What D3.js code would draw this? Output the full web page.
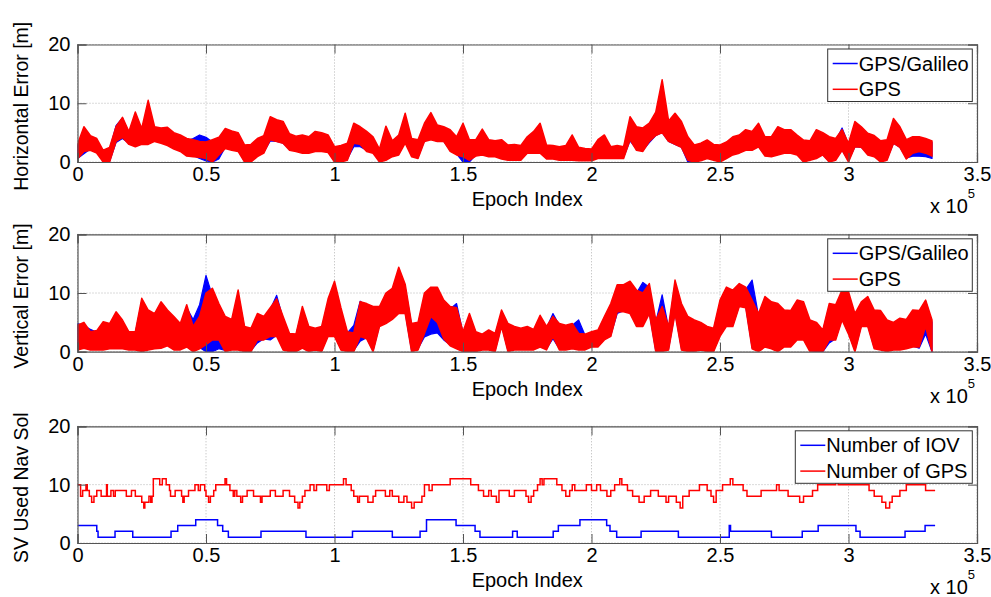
<!DOCTYPE html>
<html><head><meta charset="utf-8">
<script src="https://cdn.jsdelivr.net/npm/d3@7/dist/d3.min.js"></script>
<style>
html,body{margin:0;padding:0;background:#fff;}
svg{display:block;font-family:"Liberation Sans",Arial,Helvetica,sans-serif;}
</style></head>
<body><svg id="chart" width="991" height="597"></svg>
<script>
// ---------------- DATA ----------------
const xTickValues = [0, 0.5, 1, 1.5, 2, 2.5, 3, 3.5];          // x 10^5
const xTickLabels = ["0", "0.5", "1", "1.5", "2", "2.5", "3", "3.5"];
const yTickValues = [0, 10, 20];
const panelYLabels = ["Horizontal Error [m]", "Vertical Error [m]", "SV Used Nav Sol"];
const xAxisLabel = "Epoch Index";
const errLegend = ["GPS/Galileo", "GPS"];
const svLegend = ["Number of IOV", "Number of GPS"];

// Error envelopes (upper / lower) sampled every 2500 epochs
const envelopeStep = 2500;

// GPS-only horizontal error
const horizGpsHi = [3.0,6.0,4.5,4.0,2.0,2.5,6.0,7.6,5.2,8.5,5.7,10.5,6.0,5.8,5.9,5.0,4.6,4.0,3.8,3.5,
  3.4,3.8,4.2,5.7,5.3,5.0,2.9,3.0,4.0,4.5,7.7,7.2,6.9,4.8,4.4,4.6,4.3,5.2,5.0,4.6,
  2.6,2.8,3.2,6.6,6.0,5.2,4.3,2.2,6.1,3.6,4.6,8.3,4.0,3.8,6.6,8.4,6.3,6.0,5.5,4.3,
  6.6,3.8,3.8,5.6,3.8,3.6,3.8,2.9,3.0,2.8,4.3,5.2,6.6,2.9,2.8,2.6,2.8,4.6,2.5,2.3,
  2.2,3.8,4.6,2.6,2.8,2.6,7.7,6.0,5.8,6.6,8.5,14.0,7.0,8.3,6.9,4.3,2.9,3.2,3.75,3.0,
  2.9,3.4,4.3,4.6,5.5,5.2,6.6,4.3,4.3,6.0,5.5,5.5,4.6,3.75,3.6,5.5,5.0,4.3,4.0,5.5,
  3.2,6.9,6.0,4.9,4.5,3.6,3.8,7.4,6.0,3.8,4.3,4.3,4.0,3.6];
const horizGpsLo = [0.5,1.8,2.0,1.5,0.0,0.0,3.5,4.2,3.0,2.6,3.0,3.0,3.5,3.2,2.8,2.2,1.8,1.0,0.9,0.8,
  0.6,0.0,1.2,2.3,2.0,1.8,0.0,0.0,0.9,1.5,3.8,3.5,3.2,2.0,1.8,1.5,1.5,1.8,1.8,1.6,
  0.0,0.0,0.3,3.2,3.0,1.8,1.5,0.0,0.3,0.9,1.2,3.2,0.9,0.6,3.5,3.8,3.5,3.5,1.8,1.2,
  0.9,0.3,1.0,1.2,0.9,0.9,0.5,0.3,0.3,0.3,1.5,1.5,1.5,0.5,0.5,0.3,0.3,0.3,0.2,0.2,
  0.2,0.6,0.6,0.6,0.6,0.6,3.8,2.0,1.8,3.5,4.5,5.0,3.5,3.0,2.5,0.3,0.0,0.2,0.6,0.3,
  0.0,0.6,1.2,1.5,2.0,2.0,2.6,1.0,0.9,1.2,1.5,1.5,1.2,0.0,0.3,0.6,1.2,0.0,0.3,2.0,
  0.0,2.6,2.5,1.2,0.9,0.0,0.3,3.2,2.5,0.5,1.5,1.8,1.5,1.0];

// GPS/Galileo horizontal error
const horizGalHi = [2.8,5.0,4.0,3.5,1.8,2.2,6.2,7.5,4.8,6.5,5.2,7.5,5.5,5.4,5.3,4.6,4.2,3.6,4.0,4.6,
  4.2,3.4,3.8,5.2,4.9,4.6,2.6,2.7,3.6,4.1,7.0,6.6,6.2,4.4,4.0,4.2,3.9,4.8,4.6,4.2,
  2.3,2.5,2.9,5.8,5.6,4.8,3.9,2.0,3.5,3.2,4.2,7.0,3.6,3.4,6.0,7.2,5.8,5.6,5.0,3.9,
  5.0,3.4,3.4,4.5,3.4,3.2,3.4,2.6,2.7,2.5,3.9,4.6,5.0,2.6,2.5,2.3,2.5,3.5,2.2,2.0,
  2.0,3.4,3.8,2.3,2.5,2.3,7.0,5.4,5.2,6.0,7.5,8.5,6.5,7.8,6.2,3.8,2.6,2.9,3.3,2.7,
  2.6,3.0,3.9,4.2,5.0,4.8,6.0,3.9,3.9,5.2,5.0,5.0,4.2,3.3,3.2,4.8,4.5,3.9,3.6,5.8,
  3.0,6.2,5.5,4.4,4.0,3.3,3.5,6.5,5.5,3.4,3.9,3.8,3.6,3.3];
const horizGalLo = [0.6,1.4,2.2,1.7,0.1,0.1,3.3,4.0,3.2,2.8,3.2,3.2,3.7,3.4,3.0,2.4,2.0,1.2,1.1,0.6,
  0.2,0.0,0.5,2.5,2.2,2.0,0.1,0.1,1.1,1.7,3.6,3.5,3.2,2.2,2.0,1.7,1.7,2.0,2.0,1.8,
  0.1,0.1,0.5,2.6,2.6,2.0,1.7,0.1,0.5,1.1,1.4,3.4,1.1,0.8,3.6,4.0,3.5,3.5,2.0,1.4,
  0.0,0.0,1.2,1.4,1.1,1.1,0.7,0.5,0.5,0.5,1.7,1.7,1.7,0.7,0.7,0.5,0.5,0.5,0.4,0.4,
  0.4,0.8,0.8,0.8,0.8,0.8,3.6,2.2,2.0,3.3,4.5,5.0,3.5,3.0,2.5,0.0,0.1,0.4,0.8,0.5,
  0.1,0.8,1.4,1.7,2.2,2.2,2.6,1.2,1.1,1.4,1.7,1.7,1.4,0.1,0.5,0.8,1.2,0.1,0.5,2.0,
  0.2,2.6,2.5,1.4,1.1,0.1,0.5,3.2,2.5,0.7,1.0,1.0,0.9,0.6];

// GPS-only vertical error
const vertGpsHi = [4.5,5.0,3.4,3.6,5.1,4.8,6.8,5.4,3.4,3.4,9.1,7.1,6.5,8.5,7.1,6.0,4.8,8.0,4.3,6.0,
  10.0,10.8,8.2,6.0,5.5,10.5,4.3,4.0,6.5,6.0,7.5,9.0,6.0,3.1,3.0,7.7,4.3,4.0,4.3,9.0,
  12.0,7.5,3.4,3.2,8.5,8.2,7.7,7.7,10.0,10.8,14.4,11.5,4.8,5.0,10.0,11.0,11.0,8.8,7.7,7.5,
  3.4,6.5,3.4,3.0,3.7,3.1,7.1,4.8,4.3,4.0,4.3,3.8,6.2,4.3,6.0,4.8,4.5,4.8,3.1,3.0,
  3.4,3.7,6.0,8.2,11.4,11.4,12.0,10.5,10.0,11.6,5.4,7.7,4.3,12.2,8.2,6.0,5.4,5.0,4.3,4.0,
  8.8,11.0,10.5,11.6,11.0,8.8,6.5,9.4,8.5,8.2,7.1,7.0,8.8,8.5,5.4,5.0,3.7,8.2,8.0,10.5,
  10.2,6.5,8.5,9.4,7.1,7.0,5.4,5.0,5.7,5.5,7.1,7.0,8.8,5.4];
const vertGpsLo = [0.3,0.6,0.3,0.3,0.3,0.5,0.5,0.5,0.3,0.3,0.0,0.3,0.5,0.6,1.0,0.3,0.3,0.8,0.0,0.5,
  1.2,2.0,2.0,0.0,0.3,0.3,0.0,0.0,2.0,2.0,2.6,2.6,0.3,0.0,0.0,0.6,0.0,0.3,0.0,2.6,
  2.6,0.3,0.0,0.0,2.6,2.2,0.0,4.3,4.8,5.5,6.5,6.5,0.0,0.3,3.1,6.0,5.0,2.2,1.0,0.5,
  0.0,0.0,0.0,0.3,0.3,0.0,4.3,0.0,0.3,0.3,0.3,0.3,0.8,0.3,2.6,0.3,0.3,0.5,0.3,0.3,
  0.8,0.8,2.0,2.6,6.8,6.8,6.5,4.3,4.3,6.5,0.0,0.0,0.3,6.5,0.3,0.0,0.0,0.3,0.0,0.0,
  2.6,4.3,4.3,7.7,7.5,0.5,0.0,0.8,0.5,0.0,0.8,0.8,2.0,2.0,0.0,0.0,0.0,2.0,2.0,5.4,
  3.0,0.0,4.3,4.3,0.5,0.3,0.0,0.3,0.3,0.5,0.8,0.8,4.3,0.0];

// GPS/Galileo vertical error
const vertGalHi = [4.8,4.5,3.8,3.3,4.8,4.5,6.4,5.0,3.2,3.2,8.6,6.7,6.1,8.0,6.7,5.6,4.5,7.5,5.5,8.0,
  13.0,9.5,7.7,5.6,5.2,9.8,4.0,3.7,6.2,5.7,7.2,9.6,5.6,2.9,2.8,7.2,4.0,3.7,4.0,8.5,
  11.5,7.0,3.2,4.5,8.6,7.8,7.3,7.3,9.5,10.3,13.8,11.0,4.5,4.7,9.5,10.5,10.5,8.4,7.3,8.2,
  3.2,6.1,3.2,2.8,3.5,2.9,6.7,4.5,4.0,3.7,4.0,3.6,5.8,4.0,6.5,4.5,4.2,4.5,5.4,2.8,
  3.2,3.5,5.8,7.8,10.8,10.8,11.5,10.0,11.8,11.0,5.0,9.7,4.0,11.5,7.7,5.6,5.0,4.7,4.0,3.7,
  8.3,10.5,10.0,11.0,10.6,12.2,6.1,8.9,8.0,7.8,6.7,6.6,8.4,8.0,5.0,4.7,3.5,7.8,7.6,10.0,
  9.7,6.1,8.0,8.9,6.7,6.6,5.0,4.7,5.3,5.2,6.7,6.6,8.6,5.0];
const vertGalLo = [0.5,0.8,0.5,0.5,0.5,0.7,0.7,0.7,0.5,0.5,0.2,0.5,0.7,0.8,1.2,0.5,0.5,1.0,0.2,0.7,
  0.0,0.0,0.5,0.2,0.5,0.5,0.2,0.2,1.5,2.2,2.0,2.8,0.5,0.2,0.2,0.8,0.2,0.5,0.2,2.8,
  2.8,0.5,0.2,0.2,1.8,2.4,0.2,4.5,5.0,5.7,6.7,6.7,0.2,0.5,2.5,3.0,3.2,2.0,1.2,0.7,
  0.2,0.2,0.2,0.5,0.5,0.2,4.5,0.2,0.5,0.5,0.5,0.5,1.0,0.5,2.2,0.5,0.5,0.7,0.5,0.5,
  1.0,1.0,2.2,2.8,6.5,7.0,6.7,4.5,4.5,6.7,0.2,0.2,0.5,6.7,0.5,0.2,0.2,0.5,0.2,0.2,
  2.8,4.5,4.5,7.9,7.7,0.7,0.2,1.0,0.7,0.2,1.0,1.0,2.2,2.2,0.2,0.0,0.0,1.5,2.2,5.6,
  3.2,0.2,4.5,4.5,0.7,0.5,0.2,0.5,0.5,0.7,1.0,0.6,3.0,0.0];

// Satellites used: change points (epoch) and counts
const iovEpoch = [0,7500,8000,14600,21500,36400,39000,46000,54500,56500,58700,71400,88900,107000,122500,
  133300,135800,147300,154700,156600,169300,171100,185100,187100,195500,205900,207200,209800,219300,
  233800,253600,254100,270000,282000,288200,302900,304500,322000,329800,333700];
const iovCount = [3,2,1,2,1,2,3,4,3,2,1,2,1,2,1,2,4,3,2,1,2,1,2,3,4,3,2,1,2,1,3,2,1,2,3,2,1,2,3,3];

const gpsEpoch = [0,1200,2000,3300,3800,4600,5500,6400,7500,9200,11300,11600,13000,14000,14700,19000,
  21000,22500,25000,25800,26200,27800,28500,29000,29500,32000,33000,34500,35800,36200,38000,40500,
  41000,41500,43200,45700,47000,47800,49500,50000,51000,51700,53000,53800,57400,58000,59300,60600,
  61200,62000,63500,64200,66000,68500,71200,71800,75000,77000,80000,82500,84500,85800,86500,87500,
  88500,90500,92000,93000,97000,98000,103500,104500,106500,107500,109000,109700,113000,115000,116000,
  119800,121500,122500,125000,127000,128200,130000,131000,134000,135000,136800,138000,145000,153000,
  156000,158000,160000,161000,163000,164000,168000,170000,174500,175500,176500,177500,179000,180000,
  180800,181500,186500,188500,190000,191500,192500,193500,198000,200000,202000,203500,206000,207500,
  209000,211000,211800,214000,216000,218500,220500,223000,226000,229000,230000,233000,234500,235500,
  238000,242000,245000,246500,247500,248500,251000,254000,255000,259000,260500,266000,272000,273000,
  276500,281000,282500,286000,288000,295000,296000,308000,310000,313000,314500,316000,317000,320000,
  322500,330000,333700];
const gpsCount = [10,8,9,10,9,8,7,8,9,8,10,8,9,8,9,8,9,8,7,6,7,8,7,8,11,10,11,10,9,8,9,8,7,8,9,10,9,10,
  9,8,7,8,9,10,11,10,9,8,9,8,7,8,9,8,7,8,9,8,9,8,7,6,7,8,9,10,9,10,9,10,11,10,9,8,7,8,7,8,9,8,9,8,7,
  8,7,6,7,8,10,9,10,11,10,9,8,9,8,7,9,8,9,8,7,8,9,10,11,10,11,10,9,8,9,10,9,10,9,10,9,8,9,10,11,10,9,
  8,7,8,9,8,7,8,7,6,8,9,10,9,8,7,9,10,11,10,9,8,9,10,9,8,7,8,9,10,11,10,9,8,7,6,7,8,9,10,9,9];

// ---------------- CHART ----------------
const svg = d3.select("#chart");
const FONT = 20;
const plotLeft = 77.5, plotRight = 977;
const panels = [
  {top: 44.5, bottom: 162},
  {top: 234.3, bottom: 351.7},
  {top: 426.3, bottom: 543}
];
const BLUE = "#0000ff", RED = "#ff0000";

const x = d3.scaleLinear().domain([0, 350000]).range([plotLeft, plotRight]);

function envelope(hi, lo, step) {
  const n = Math.min(hi.length, lo.length);
  return d3.range(n).map(i => ({e: i * step, hi: hi[i], lo: lo[i]}));
}

panels.forEach((p, k) => {
  const y = d3.scaleLinear().domain([0, 20]).range([p.bottom, p.top]);
  const g = svg.append("g");
  const clipId = "clip" + k;
  svg.append("clipPath").attr("id", clipId).append("rect")
    .attr("x", plotLeft).attr("y", p.top).attr("width", plotRight - plotLeft).attr("height", p.bottom - p.top);

  // grid
  const grid = g.append("g").attr("stroke", "#b4b4b4").attr("stroke-width", 1).attr("stroke-dasharray", "1,2");
  xTickValues.forEach(v => {
    grid.append("line").attr("x1", x(v * 1e5)).attr("x2", x(v * 1e5)).attr("y1", p.top).attr("y2", p.bottom);
  });
  yTickValues.forEach(v => {
    grid.append("line").attr("x1", plotLeft).attr("x2", plotRight).attr("y1", y(v)).attr("y2", y(v));
  });

  const data = g.append("g").attr("clip-path", `url(#${clipId})`);
  if (k < 2) {
    const gal = k === 0 ? envelope(horizGalHi, horizGalLo, envelopeStep) : envelope(vertGalHi, vertGalLo, envelopeStep);
    const gps = k === 0 ? envelope(horizGpsHi, horizGpsLo, envelopeStep) : envelope(vertGpsHi, vertGpsLo, envelopeStep);
    const area = d3.area().x(d => x(d.e)).y0(d => y(d.lo)).y1(d => y(d.hi));
    data.append("path").datum(gal).attr("d", area).attr("fill", BLUE).attr("stroke", BLUE)
      .attr("stroke-width", 1.2).attr("stroke-linejoin", "round");
    data.append("path").datum(gps).attr("d", area).attr("fill", RED).attr("stroke", RED)
      .attr("stroke-width", 1.5).attr("stroke-linejoin", "round");
  } else {
    const line = d3.line().x(d => x(d[0])).y(d => y(d[1])).curve(d3.curveStepAfter);
    data.append("path").datum(iovEpoch.map((e, i) => [e, iovCount[i]])).attr("d", line)
      .attr("fill", "none").attr("stroke", BLUE).attr("stroke-width", 1.5);
    data.append("path").datum(gpsEpoch.map((e, i) => [e, gpsCount[i]])).attr("d", line)
      .attr("fill", "none").attr("stroke", RED).attr("stroke-width", 1.5);
  }

  // axes (ticks inward, mirrored)
  const fmt = (v) => xTickLabels[xTickValues.indexOf(v / 1e5)];
  const ax = g.append("g").attr("transform", `translate(0,${p.bottom})`)
    .call(d3.axisBottom(x).tickValues(xTickValues.map(v => v * 1e5)).tickFormat(fmt).tickSize(-9).tickPadding(5));
  const at = g.append("g").attr("transform", `translate(0,${p.top})`)
    .call(d3.axisTop(x).tickValues(xTickValues.map(v => v * 1e5)).tickFormat("").tickSize(-9));
  const ay = g.append("g").attr("transform", `translate(${plotLeft},0)`)
    .call(d3.axisLeft(y).tickValues(yTickValues).tickFormat(d3.format("d")).tickSize(-9).tickPadding(7));
  const ar = g.append("g").attr("transform", `translate(${plotRight},0)`)
    .call(d3.axisRight(y).tickValues(yTickValues).tickFormat("").tickSize(-9));
  [ax, at, ay, ar].forEach(a => {
    a.select(".domain").attr("stroke", "#555").attr("stroke-width", 1.2);
    a.selectAll(".tick line").attr("stroke", "#555");
    a.selectAll("text").attr("font-size", FONT).attr("fill", "#000")
      .attr("font-family", '"Liberation Sans",Arial,sans-serif');
  });

  // x label
  g.append("text").attr("x", (plotLeft + plotRight) / 2).attr("y", p.bottom + 44)
    .attr("text-anchor", "middle").attr("font-size", FONT).text(xAxisLabel);
  // x10^5
  const mult = g.append("text").attr("x", 930).attr("y", p.bottom + 51).attr("font-size", FONT);
  mult.append("tspan").text("x 10");
  mult.append("tspan").attr("font-size", 13).attr("dy", -15).text("5");
  // y label
  g.append("text").attr("transform", `translate(28,${(p.top + p.bottom) / 2 + 3}) rotate(-90)`)
    .attr("text-anchor", "middle").attr("font-size", 19.5).text(panelYLabels[k]);

  // legend
  const names = k < 2 ? errLegend : svLegend;
  const lx0 = k < 2 ? 827.7 : 795.3, lx1 = 972.3;
  const ly0 = p.top + 4.5;
  const lh = 52.5;
  const lg = g.append("g");
  lg.append("rect").attr("x", lx0).attr("y", ly0).attr("width", lx1 - lx0).attr("height", lh)
    .attr("fill", "#fff").attr("stroke", "#333").attr("stroke-width", 1);
  [BLUE, RED].forEach((c, i) => {
    const cy = ly0 + 14.5 + i * 25.8;
    lg.append("line").attr("x1", lx0 + 5).attr("x2", lx0 + 30).attr("y1", cy).attr("y2", cy)
      .attr("stroke", c).attr("stroke-width", 1.5);
    lg.append("text").attr("x", lx0 + 31).attr("y", cy).attr("dy", "0.35em")
      .attr("font-size", FONT).text(names[i]);
  });
});
</script>
</body></html>
